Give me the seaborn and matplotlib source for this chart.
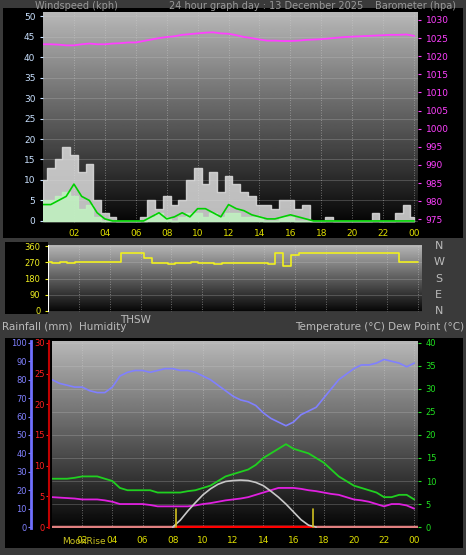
import numpy as np
import pandas as pd
import matplotlib
matplotlib.use("Agg")
import matplotlib.pyplot as plt
import seaborn as sns

sns.set_style("dark")
plt.rcParams['font.family'] = ['DejaVu Sans']

# half-hour samples, 0h .. 24h
hours = [i * 0.5 for i in range(49)]

baro = [1023.3, 1023.3, 1023.2, 1023.0, 1023.0, 1023.3, 1023.5, 1023.3, 1023.3, 1023.5,
        1023.6, 1023.8, 1023.8, 1024.2, 1024.6, 1025.0, 1025.3, 1025.5, 1025.9, 1026.1,
        1026.3, 1026.5, 1026.6, 1026.3, 1026.2, 1025.8, 1025.3, 1025.0, 1024.6, 1024.3,
        1024.3, 1024.2, 1024.2, 1024.3, 1024.5, 1024.6, 1024.7, 1024.9, 1025.1, 1025.3,
        1025.4, 1025.5, 1025.6, 1025.7, 1025.8, 1025.9, 1025.9, 1026.0, 1025.6]
gust = [10, 13, 15, 18, 16, 12, 14, 5, 2, 1, 0, 0, 0, 1, 5, 3, 6, 4, 5, 10,
        13, 9, 12, 7, 11, 9, 7, 6, 4, 4, 3, 5, 5, 3, 4, 0, 0, 1, 0, 0,
        0, 0, 0, 2, 0, 0, 2, 4, 1]
speed = [5, 5, 6, 7, 6, 3, 4, 1, 0, 0, 0, 0, 0, 0, 1, 2, 1, 0, 1, 2,
         2, 1, 2, 1, 2, 2, 1, 1, 1, 0, 0, 1, 1, 0, 0, 0, 0, 0, 0, 0,
         0, 0, 0, 0, 0, 0, 0, 0, 0]
wind_avg = [4, 4, 5, 6, 9, 6, 5, 2, 0.5, 0, 0, 0, 0, 0, 1, 2, 0.5, 1, 2, 1,
            3, 3, 2, 1, 4, 3, 2.5, 1.5, 1, 0.5, 0.5, 1, 1.5, 1, 0.5, 0, 0, 0, 0, 0,
            0, 0, 0, 0, 0, 0, 0, 0, 0]
wind_dir = [270, 268, 270, 268, 270, 270, 270, 270, 270, 270, 322, 322, 322, 295, 265, 268, 262, 268, 265, 270,
            265, 268, 262, 265, 268, 265, 266, 268, 265, 262, 322, 250, 310, 322, 322, 325, 325, 325, 325, 325,
            325, 325, 325, 325, 325, 325, 270, 272, 270]
humidity = [80, 78, 77, 76, 76, 74, 73, 73, 76, 82, 84, 85, 85, 84, 85, 86, 86, 85, 85, 84,
            82, 80, 77, 74, 71, 69, 68, 66, 62, 59, 57, 55, 57, 61, 63, 65, 70, 75, 80, 83,
            86, 88, 88, 89, 91, 90, 89, 87, 89]
temperature = [10.5, 10.5, 10.5, 10.7, 11, 11, 11, 10.5, 10, 8.5, 8, 8, 8, 8, 7.5, 7.5, 7.5, 7.5, 7.8, 8,
               8.5, 9, 10, 11, 11.5, 12, 12.5, 13.5, 15, 16, 17, 18, 17, 16.5, 16, 15, 14, 12.5, 11, 10,
               9, 8.5, 8, 7.5, 6.5, 6.5, 7, 7, 6]
dew_point = [6.5, 6.4, 6.3, 6.2, 6, 6, 6, 5.8, 5.5, 5, 5, 5, 5, 4.8, 4.5, 4.5, 4.5, 4.5, 4.5, 4.7,
             5, 5.2, 5.5, 5.8, 6, 6.2, 6.5, 7, 7.5, 8, 8.5, 8.5, 8.5, 8.3, 8, 7.8, 7.5, 7.2, 7, 6.5,
             6, 5.8, 5.5, 5, 4.5, 5, 5, 4.7, 4]
solar = [np.nan] * 16 + [0, 1.5, 3.5, 5.3, 7, 8.3, 9.3, 9.9, 10.1, 10.2, 10.1, 9.7, 9, 7.8, 6.5, 5, 3.3, 1.6, 0.4, 0] + [np.nan] * 13
sunrise, sunset = 8.2, 17.3
tick_hours = [2, 4, 6, 8, 10, 12, 14, 16, 18, 20, 22, 24]
tick_labels = ["02", "04", "06", "08", "10", "12", "14", "16", "18", "20", "22", "00"]

df = pd.DataFrame(dict(h=hours, baro=baro, gust=gust, speed=speed, avg=wind_avg, dir=wind_dir,
                       hum=humidity, temp=temperature, dew=dew_point, solar=solar))

W, H = 466, 555
fig = plt.figure(figsize=(W / 100, H / 100), dpi=100, facecolor='#3a3a3a')


def px(x0, y0, x1, y1):
    return [x0 / W, 1 - y1 / H, (x1 - x0) / W, (y1 - y0) / H]


def block(x0, y0, x1, y1):
    a = fig.add_axes(px(x0, y0, x1, y1), zorder=-5)
    a.set_facecolor('black')
    a.set_xticks([]); a.set_yticks([])
    for s in a.spines.values():
        s.set_visible(False)


def gradient(ax):
    ax.set_facecolor('black')
    grad = np.linspace(0.72, 0.02, 200).reshape(-1, 1)
    ax.imshow(grad, cmap='gray', vmin=0, vmax=1, aspect='auto', extent=[0, 1, 0, 1],
              transform=ax.transAxes, zorder=0)
    for s in ax.spines.values():
        s.set_visible(False)


def xaxis(ax, show=True):
    ax.set_xlim(0, 24.25)
    ax.set_xticks(tick_hours)
    ax.set_xticklabels(tick_labels if show else [], color='#e0e000', fontsize=6.5)
    ax.tick_params(axis='x', length=0, pad=4)
    for h in tick_hours:
        ax.axvline(h, color='#d0d0d0', lw=0.6, ls=(0, (1, 2)), alpha=0.6, zorder=1)


block(3, 8, 463, 238)
block(5, 242, 48, 314)
block(5, 338, 463, 548)

# ---- top: wind & barometer
ax1 = fig.add_axes(px(43, 12, 418, 223))
gradient(ax1)
xaxis(ax1)
ax1.set_ylim(-0.5, 51)
for v in range(0, 51, 5):
    ax1.axhline(v, color='#cccccc', lw=0.5, alpha=0.35, zorder=1)
ax1.fill_between(df.h, 0, df.gust, step='mid', color='#dddddd', alpha=0.85, zorder=2)
ax1.fill_between(df.h, 0, df.speed, step='mid', color='#c0f0c0', alpha=0.9, zorder=3)
sns.lineplot(x='h', y='avg', data=df, ax=ax1, color='#00d000', lw=1.2, zorder=4)
ax1.set_yticks(range(0, 51, 5))
ax1.tick_params(axis='y', colors='#c8e0ff', labelsize=6.5, length=2, left=True)
ax1.set_xlabel(''); ax1.set_ylabel('')
axb = ax1.twinx()
axb.set_ylim(974.0, 1032.2)
sns.lineplot(x='h', y='baro', data=df, ax=axb, color='#ff40ff', lw=1.3)
axb.set_yticks(range(975, 1031, 5))
axb.tick_params(axis='y', colors='#ff40ff', labelsize=6.5, length=2, right=True)
axb.set_ylabel('')
for s in axb.spines.values():
    s.set_visible(False)
fig.text(35 / W, 1 - 1 / H, "Windspeed (kph)", color='#999999', fontsize=7, va='top')
fig.text(266 / W, 1 - 1 / H, "24 hour graph day : 13 December 2025", color='#999999', fontsize=7, va='top', ha='center')
fig.text(375 / W, 1 - 1 / H, "Barometer (hpa)", color='#999999', fontsize=7, va='top')

# ---- middle: wind direction
ax2 = fig.add_axes(px(48, 245, 422, 312))
gradient(ax2)
xaxis(ax2, show=False)
ax2.set_ylim(-8, 368)
for v in range(0, 361, 90):
    ax2.axhline(v, color='#cccccc', lw=0.5, alpha=0.35, zorder=1)
ax2.step(df.h, df.dir, where='mid', color='#f0f020', lw=1.2, zorder=3)
ax2.set_yticks(range(0, 361, 90))
ax2.tick_params(axis='y', colors='#f0f020', labelsize=6, length=2, left=True)
ax2.axvline(0, color='white', lw=1.5)
for lab, v in zip(["N", "W", "S", "E", "N"], [360, 270, 180, 90, 0]):
    ax2.text(1.045, (v + 8) / 376, lab, transform=ax2.transAxes, color='#bbbbbb', fontsize=8, ha='center', va='center')
fig.text(120 / W, 1 - 320 / H, "THSW", color='#bbbbbb', fontsize=7.5, va='center')
fig.text(2 / W, 1 - 327 / H, "Rainfall (mm)  Humidity", color='#bbbbbb', fontsize=7.5, va='center')
fig.text(464 / W, 1 - 327 / H, "Temperature (°C) Dew Point (°C)", color='#bbbbbb', fontsize=7.5, va='center', ha='right')

# ---- bottom: humidity, rain, temperature
ax3 = fig.add_axes(px(52, 341, 418, 528))
gradient(ax3)
ax3.set_xlim(0, 24.25)
ax3.set_ylim(-0.5, 101)
for v in range(0, 41, 5):
    ax3.axhline(v * 2.5, color='#cccccc', lw=0.5, alpha=0.35, zorder=1)
sns.lineplot(x='h', y='hum', data=df, ax=ax3, color='#8080ff', lw=1.2, zorder=4)
ax3.set_yticks(range(0, 101, 10))
ax3.spines['left'].set_visible(True)
ax3.spines['left'].set_position(('outward', 15))
ax3.spines['left'].set_color('#7070ff')
ax3.spines['left'].set_linewidth(2)
ax3.tick_params(axis='y', colors='#8080ff', labelsize=6, length=2, left=True, pad=1)
ax3.set_xlabel(''); ax3.set_ylabel('')
ax3.set_xticks(tick_hours)
ax3.set_xticklabels(tick_labels, color='#e0e000', fontsize=6.5)
ax3.tick_params(axis='x', length=0, pad=6)
for h in tick_hours:
    ax3.axvline(h, color='#d0d0d0', lw=0.6, ls=(0, (1, 2)), alpha=0.6, zorder=1)

axr = ax3.twinx()
axr.yaxis.tick_left()
axr.set_ylim(-0.15, 30.3)
axr.set_yticks(range(0, 31, 5))
for s in axr.spines.values():
    s.set_visible(False)
axr.spines['left'].set_visible(True)
axr.spines['left'].set_position(('outward', 2))
axr.spines['left'].set_color('#c00000')
axr.spines['left'].set_linewidth(1.5)
axr.tick_params(axis='y', colors='#ff2020', labelsize=6, length=2, pad=1)
axr.plot([0, 24.25], [0, 0], color='#e08080', lw=2.5)
axr.plot([sunrise, sunset], [0, 0], color='#ff0000', lw=2.5)

axt = ax3.twinx()
axt.set_ylim(-0.2, 40.4)
for s in axt.spines.values():
    s.set_visible(False)
sns.lineplot(x='h', y='temp', data=df, ax=axt, color='#20d020', lw=1.3)
sns.lineplot(x='h', y='dew', data=df, ax=axt, color='#e020e0', lw=1.3)
sns.lineplot(x='h', y='solar', data=df, ax=axt, color='#c8c8c8', lw=1.2)
for t in (sunrise, sunset):
    axt.plot([t, t], [0, 4], color='#d0c020', lw=1.2)
axt.set_yticks(range(0, 41, 5))
axt.tick_params(axis='y', colors='#20e020', labelsize=6, length=2, right=True)
axt.set_ylabel('')
fig.text(62 / W, 1 - 542 / H, "MoonRise", color='#c8c020', fontsize=6.5, va='center')

fig.savefig("out.png", dpi=100, facecolor=fig.get_facecolor())
